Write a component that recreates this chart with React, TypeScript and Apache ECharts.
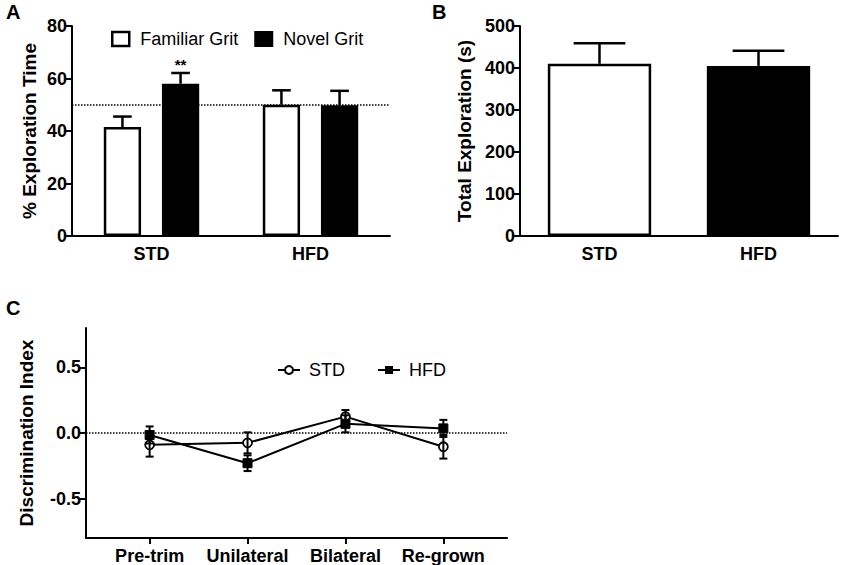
import React, { useEffect, useRef } from "react";
import * as echarts from "echarts";

const groupCategories = ["STD", "HFD"];
const familiarPct = [41.5, 50.0];
const familiarPctErr = [4.0, 5.5];
const novelPct = [58.0, 49.8];
const novelPctErr = [4.1, 5.5];
const novelSignificance = ["**", ""];
const pctTicks = [0, 20, 40, 60, 80];

const totalExploration = [410, 405];
const totalExplorationErr = [49, 36];
const totalTicks = [0, 100, 200, 300, 400, 500];

const phases = ["Pre-trim", "Unilateral", "Bilateral", "Re-grown"];
const stdDI = [-0.09, -0.075, 0.125, -0.105];
const stdDIErr = [0.09, 0.08, 0.05, 0.09];
const hfdDI = [-0.015, -0.23, 0.07, 0.035];
const hfdDIErr = [0.065, 0.06, 0.065, 0.065];
const diTicks = [-0.5, 0, 0.5];

const FONT = "Arial, 'Liberation Sans', Helvetica, sans-serif";
const BAR_GAP = 0.56;
const CAT_GAP = 0.4;

export default function App() {
  const ref = useRef<HTMLDivElement>(null);
  useEffect(() => {
    document.body.style.margin = "0";
    if (!ref.current) return;
    const chart = echarts.init(ref.current, undefined, { renderer: "svg" });

    const axisLine = { show: true, onZero: false, lineStyle: { color: "#000", width: 2 } };
    const tickLabel = { color: "#000", fontSize: 18, fontWeight: "bold" as const, fontFamily: FONT };
    const nameStyle = { color: "#000", fontSize: 19, fontWeight: "bold" as const, fontFamily: FONT };

    const groupedErr = (side: number, sig?: string[]) => (params: any, api: any) => {
      const x = api.value(0);
      const v = api.value(1);
      const e = api.value(2);
      const band = api.size([1, 0])[0];
      const w = (band * (1 - CAT_GAP)) / (2 + BAR_GAP);
      const off = side * (w * (1 + BAR_GAP)) / 2;
      const p0 = api.coord([x, v]);
      const p1 = api.coord([x, v + e]);
      const cx = p0[0] + off;
      const half = w / 4;
      const children: any[] = [
        { type: "line", shape: { x1: cx, y1: p0[1], x2: cx, y2: p1[1] }, style: { stroke: "#000", lineWidth: 2.5 } },
        { type: "line", shape: { x1: cx - half, y1: p1[1], x2: cx + half, y2: p1[1] }, style: { stroke: "#000", lineWidth: 2.5 } },
      ];
      if (sig && sig[params.dataIndex]) {
        children.push({
          type: "text",
          style: { text: sig[params.dataIndex], x: cx, y: p1[1] - 1, align: "center", verticalAlign: "bottom", fill: "#000", font: `bold 15px ${FONT}` },
        });
      }
      return { type: "group", children };
    };

    const singleErr = (params: any, api: any) => {
      const x = api.value(0);
      const v = api.value(1);
      const e = api.value(2);
      const band = api.size([1, 0])[0];
      const w = band * (1 - 0.35);
      const p0 = api.coord([x, v]);
      const p1 = api.coord([x, v + e]);
      const half = w / 4;
      return {
        type: "group",
        children: [
          { type: "line", shape: { x1: p0[0], y1: p0[1], x2: p0[0], y2: p1[1] }, style: { stroke: "#000", lineWidth: 2.5 } },
          { type: "line", shape: { x1: p0[0] - half, y1: p1[1], x2: p0[0] + half, y2: p1[1] }, style: { stroke: "#000", lineWidth: 2.5 } },
        ],
      };
    };

    const symErr = (params: any, api: any) => {
      const x = api.value(0);
      const v = api.value(1);
      const e = api.value(2);
      const lo = api.coord([x, v - e]);
      const hi = api.coord([x, v + e]);
      const half = 4;
      const st = { stroke: "#000", lineWidth: 2 };
      return {
        type: "group",
        children: [
          { type: "line", shape: { x1: lo[0], y1: lo[1], x2: hi[0], y2: hi[1] }, style: st },
          { type: "line", shape: { x1: lo[0] - half, y1: lo[1], x2: lo[0] + half, y2: lo[1] }, style: st },
          { type: "line", shape: { x1: hi[0] - half, y1: hi[1], x2: hi[0] + half, y2: hi[1] }, style: st },
        ],
      };
    };

    const dotted = { type: "dotted" as const, color: "#000", width: 1.5 };

    chart.setOption({
      animation: false,
      textStyle: { fontFamily: FONT },
      graphic: [
        { type: "text", left: 6, top: 2, style: { text: "A", font: `bold 20px ${FONT}`, fill: "#000" } },
        { type: "text", left: 432, top: 2, style: { text: "B", font: `bold 20px ${FONT}`, fill: "#000" } },
        { type: "text", left: 6, top: 298, style: { text: "C", font: `bold 20px ${FONT}`, fill: "#000" } },
      ],
      legend: [
        {
          left: 106,
          top: 25,
          icon: "rect",
          itemWidth: 17,
          itemHeight: 14,
          itemGap: 16,
          textStyle: { color: "#000", fontSize: 18, fontFamily: FONT, padding: [0, 0, 0, 6] },
          data: [
            { name: "Familiar Grit", itemStyle: { color: "#fff", borderColor: "#000", borderWidth: 2.5 } },
            { name: "Novel Grit", itemStyle: { color: "#000" } },
          ],
        },
        {
          left: 272,
          top: 356,
          itemWidth: 22,
          itemHeight: 10,
          itemGap: 32,
          textStyle: { color: "#000", fontSize: 18, fontFamily: FONT, padding: [0, 0, 0, 4] },
          data: ["STD", "HFD"],
        },
      ],
      grid: [
        { left: 72, top: 26, width: 318, height: 210 },
        { left: 520, top: 26, width: 318, height: 210 },
        { left: 86, top: 328, width: 421, height: 210 },
      ],
      xAxis: [
        {
          gridIndex: 0,
          type: "category",
          data: groupCategories,
          axisLine,
          axisTick: { show: false },
          axisLabel: { ...tickLabel, margin: 9 },
        },
        {
          gridIndex: 1,
          type: "category",
          data: groupCategories,
          axisLine,
          axisTick: { show: false },
          axisLabel: { ...tickLabel, margin: 9 },
        },
        {
          gridIndex: 2,
          type: "value",
          min: 0.35,
          max: 4.65,
          axisLine,
          splitLine: { show: false },
          axisTick: { show: true, length: 6, lineStyle: { width: 2, color: "#000" }, customValues: [1, 2, 3, 4] },
          axisLabel: {
            ...tickLabel,
            margin: 9,
            customValues: [1, 2, 3, 4],
            formatter: (v: number) => phases[Math.round(v) - 1] ?? "",
          },
        },
      ],
      yAxis: [
        {
          gridIndex: 0,
          type: "value",
          min: pctTicks[0],
          max: pctTicks[pctTicks.length - 1],
          interval: 20,
          axisLine,
          splitLine: { show: false },
          axisTick: { show: true, length: 6, lineStyle: { width: 2, color: "#000" } },
          axisLabel: { ...tickLabel, margin: 5 },
          name: "% Exploration Time",
          nameLocation: "middle",
          nameGap: 33,
          nameTextStyle: nameStyle,
        },
        {
          gridIndex: 1,
          type: "value",
          min: totalTicks[0],
          max: totalTicks[totalTicks.length - 1],
          interval: 100,
          axisLine,
          splitLine: { show: false },
          axisTick: { show: true, length: 6, lineStyle: { width: 2, color: "#000" } },
          axisLabel: { ...tickLabel, margin: 5 },
          name: "Total Exploration (s)",
          nameLocation: "middle",
          nameGap: 46,
          nameTextStyle: nameStyle,
        },
        {
          gridIndex: 2,
          type: "value",
          min: -0.8,
          max: 0.8,
          axisLine,
          splitLine: { show: false },
          axisTick: { show: true, length: 6, lineStyle: { width: 2, color: "#000" }, customValues: diTicks },
          axisLabel: { ...tickLabel, margin: 5, customValues: diTicks, formatter: (v: number) => v.toFixed(1) },
          name: "Discrimination Index",
          nameLocation: "middle",
          nameGap: 50,
          nameTextStyle: nameStyle,
        },
      ],
      series: [
        {
          name: "ref50",
          type: "line",
          xAxisIndex: 0,
          yAxisIndex: 0,
          z: 1,
          data: [],
          markLine: { silent: true, symbol: "none", label: { show: false }, lineStyle: dotted, data: [{ yAxis: 50 }] },
        },
        {
          name: "Familiar Grit",
          type: "bar",
          xAxisIndex: 0,
          yAxisIndex: 0,
          z: 3,
          barGap: `${BAR_GAP * 100}%`,
          barCategoryGap: `${CAT_GAP * 100}%`,
          itemStyle: { color: "#fff", borderColor: "#000", borderWidth: 2.5 },
          data: familiarPct,
        },
        {
          name: "Novel Grit",
          type: "bar",
          xAxisIndex: 0,
          yAxisIndex: 0,
          z: 3,
          barGap: `${BAR_GAP * 100}%`,
          barCategoryGap: `${CAT_GAP * 100}%`,
          itemStyle: { color: "#000", borderColor: "#000", borderWidth: 2.5 },
          data: novelPct,
        },
        {
          type: "custom",
          xAxisIndex: 0,
          yAxisIndex: 0,
          z: 4,
          renderItem: groupedErr(-1),
          data: familiarPct.map((v, i) => [i, v, familiarPctErr[i]]),
        },
        {
          type: "custom",
          xAxisIndex: 0,
          yAxisIndex: 0,
          z: 4,
          renderItem: groupedErr(1, novelSignificance),
          data: novelPct.map((v, i) => [i, v, novelPctErr[i]]),
        },
        {
          name: "Total",
          type: "bar",
          xAxisIndex: 1,
          yAxisIndex: 1,
          z: 3,
          barCategoryGap: "35%",
          data: totalExploration.map((v, i) => ({
            value: v,
            itemStyle: i === 0
              ? { color: "#fff", borderColor: "#000", borderWidth: 2.5 }
              : { color: "#000", borderColor: "#000", borderWidth: 2.5 },
          })),
        },
        {
          type: "custom",
          xAxisIndex: 1,
          yAxisIndex: 1,
          z: 4,
          renderItem: singleErr,
          data: totalExploration.map((v, i) => [i, v, totalExplorationErr[i]]),
        },
        {
          name: "ref0",
          type: "line",
          xAxisIndex: 2,
          yAxisIndex: 2,
          z: 1,
          data: [],
          markLine: { silent: true, symbol: "none", label: { show: false }, lineStyle: dotted, data: [{ yAxis: 0 }] },
        },
        {
          name: "STD",
          type: "line",
          xAxisIndex: 2,
          yAxisIndex: 2,
          z: 3,
          symbol: "circle",
          symbolSize: 9,
          itemStyle: { color: "#fff", borderColor: "#000", borderWidth: 1.8 },
          lineStyle: { color: "#000", width: 2 },
          data: stdDI.map((v, i) => [i + 1, v]),
        },
        {
          name: "HFD",
          type: "line",
          xAxisIndex: 2,
          yAxisIndex: 2,
          z: 3,
          symbol: "rect",
          symbolSize: 9,
          itemStyle: { color: "#000", borderColor: "#000" },
          lineStyle: { color: "#000", width: 2 },
          data: hfdDI.map((v, i) => [i + 1, v]),
        },
        {
          type: "custom",
          xAxisIndex: 2,
          yAxisIndex: 2,
          z: 4,
          renderItem: symErr,
          data: stdDI.map((v, i) => [i + 1, v, stdDIErr[i]]),
        },
        {
          type: "custom",
          xAxisIndex: 2,
          yAxisIndex: 2,
          z: 4,
          renderItem: symErr,
          data: hfdDI.map((v, i) => [i + 1, v, hfdDIErr[i]]),
        },
      ],
    });
    return () => chart.dispose();
  }, []);
  return <div ref={ref} style={{ width: 842, height: 565 }} />;
}
